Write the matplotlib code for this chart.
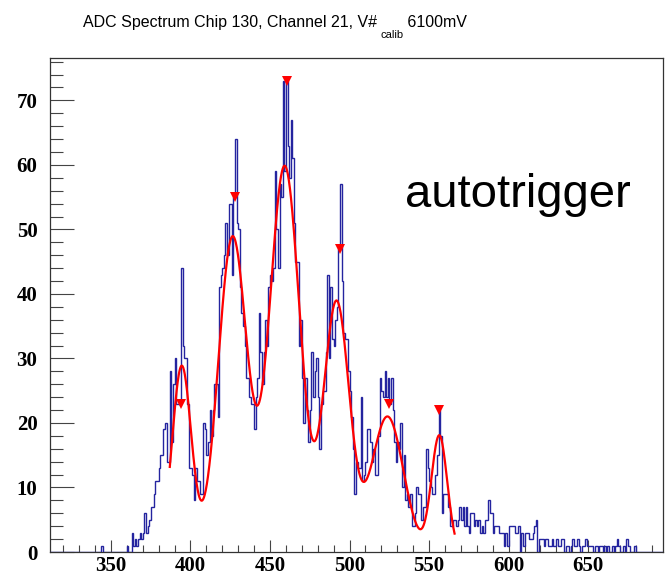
import numpy as np
import matplotlib
matplotlib.use("Agg")
import matplotlib.pyplot as plt
from matplotlib.ticker import MultipleLocator

# ADC histogram: one count per ADC channel, first bin starts at 312
first_bin = 312
counts = (
    [0] * 32 + [1] + [0] * 15 + [1, 0, 0]
    + [3, 1, 2, 1, 2, 3, 2, 3, 6, 3]
    + [4, 5, 7, 7, 9, 11, 11, 13, 15, 15]
    + [19, 20, 14, 14, 28, 17, 26, 30, 23, 23]
    + [23, 44, 32, 30, 30, 23, 13, 13, 12, 8]
    + [13, 11, 11, 9, 9, 20, 19, 15, 17, 22]
    + [18, 22, 26, 26, 21, 41, 43, 44, 46, 51]
    + [46, 54, 54, 43, 55, 64, 51, 50, 41, 37]
    + [35, 32, 27, 27, 24, 23, 23, 19, 24, 27]
    + [37, 31, 26, 31, 36, 32, 41, 43, 42, 44]
    + [59, 50, 44, 57, 55, 73, 59, 73, 63, 58]
    + [67, 61, 51, 45, 45, 32, 36, 27, 20, 27]
    + [22, 17, 22, 31, 24, 28, 30, 24, 16, 23]
    + [25, 25, 31, 43, 30, 41, 33, 32, 36, 38]
    + [47, 57, 42, 34, 33, 33, 28, 25, 21, 16]
    + [9, 14, 13, 13, 24, 11, 12, 14, 19, 19]
    + [17, 14, 16, 12, 12, 18, 27, 25, 24, 28]
    + [24, 27, 23, 27, 22, 17, 14, 17, 16, 20]
    + [10, 15, 8, 9, 7, 9, 4, 4, 6, 10]
    + [9, 9, 5, 7, 7, 16, 13, 11, 10, 9]
    + [9, 12, 15, 22, 18, 6, 9, 9, 9, 7]
    + [4, 4, 5, 5, 4, 5, 7, 5, 7, 4]
    + [7, 4, 3, 6, 6, 4, 5, 4, 5, 3]
    + [4, 3, 5, 5, 8, 6, 6, 3, 4, 4]
    + [4, 3, 3, 3, 1, 3, 1, 4, 4, 4]
    + [4, 3, 3, 4, 0, 3, 1, 3, 3, 3]
    + [2, 2, 3, 4, 5, 0, 2, 2, 2, 1]
    + [2, 2, 1, 1, 2, 1, 1, 2, 1, 1]
    + [2, 2, 0, 1, 1, 0, 1, 2, 1, 1]
    + [2, 1, 0, 1, 1, 2, 1, 1, 1, 1]
    + [0, 1, 1, 0, 1, 1, 0, 1, 0, 1]
    + [0, 0, 1, 0, 1, 2, 1, 0, 0, 1]
    + [0, 2, 1, 0, 0, 0, 1, 0, 0, 0]
    + [0] * 14
)

# Peak-search positions (markers sit on the bin content at each position)
peak_x = [393.9, 427.8, 460.4, 493.7, 525.0, 556.4]

# Multi-Gaussian fit result
fit_amp = [28.8, 48.8, 59.8, 38.7, 21.0, 18.0]
fit_mean = [394.5, 426.5, 459.2, 491.8, 523.8, 556.4]
fit_sigma = [6.0, 9.0, 9.5, 8.0, 10.0, 5.0]
fit_lo, fit_hi = 387.0, 566.0

x_lo, x_hi = 311.7, 697.0

counts = np.asarray(counts, dtype=float)
edges = first_bin + np.arange(len(counts) + 1)

W, H = 668, 576
fig = plt.figure(figsize=(W / 100, H / 100), dpi=100)
ax = fig.add_axes([50 / W, 1 - 552 / H, (663 - 50) / W, (552 - 57.5) / H])

ax.stairs(counts, edges, color="#24249f", lw=1.0, baseline=0, zorder=3)

xf = np.linspace(fit_lo, fit_hi, 800)
yf = np.zeros_like(xf)
for a, m, s in zip(fit_amp, fit_mean, fit_sigma):
    yf += a * np.exp(-0.5 * ((xf - m) / s) ** 2)
ax.plot(xf, yf, color="#ff0000", lw=1.6, zorder=4)

peak_bins = (np.floor(peak_x) - first_bin).astype(int)
ax.plot(peak_x, counts[peak_bins], ls="none", marker="v", color="#ff0000",
        markersize=6.5, markeredgewidth=0, zorder=5)

ax.set_xlim(x_lo, x_hi)
ax.set_ylim(0, 1.05 * counts.max())

ax.xaxis.set_major_locator(MultipleLocator(50))
ax.xaxis.set_minor_locator(MultipleLocator(10))
ax.yaxis.set_major_locator(MultipleLocator(10))
ax.yaxis.set_minor_locator(MultipleLocator(2))
ax.tick_params(axis="x", which="major", direction="in", length=9, width=0.8,
               color="#444444", pad=3)
ax.tick_params(axis="x", which="minor", direction="in", length=5, width=0.8,
               color="#444444")
ax.tick_params(axis="y", which="major", direction="in", length=17, width=0.8,
               color="#444444", pad=9)
ax.tick_params(axis="y", which="minor", direction="in", length=9, width=0.8,
               color="#444444")
for lab in ax.get_xticklabels() + ax.get_yticklabels():
    lab.set_fontfamily("Liberation Serif")
    lab.set_fontweight("bold")
    lab.set_fontsize(15)
for sp in ax.spines.values():
    sp.set_color("#333333")
    sp.set_linewidth(0.9)

# Title with a subscript drawn in pieces
renderer = fig.canvas.get_renderer()
tx, ty = 83 / W, 1 - 27 / H
t1 = fig.text(tx, ty, "ADC Spectrum Chip 130, Channel 21, V#",
              fontsize=11.5, family="Liberation Sans", va="baseline")
b1 = t1.get_window_extent(renderer=renderer)
t2 = fig.text((b1.x1 + 3) / W, ty - 11 / H, "calib",
              fontsize=8, family="Liberation Sans", va="baseline")
b2 = t2.get_window_extent(renderer=renderer)
fig.text(b2.x1 / W, ty, " 6100mV",
         fontsize=11.5, family="Liberation Sans", va="baseline")

fig.text(405 / W, 1 - 207 / H, "autotrigger", fontsize=34,
         family="Liberation Sans", va="baseline")

fig.savefig("out.png", dpi=100)
